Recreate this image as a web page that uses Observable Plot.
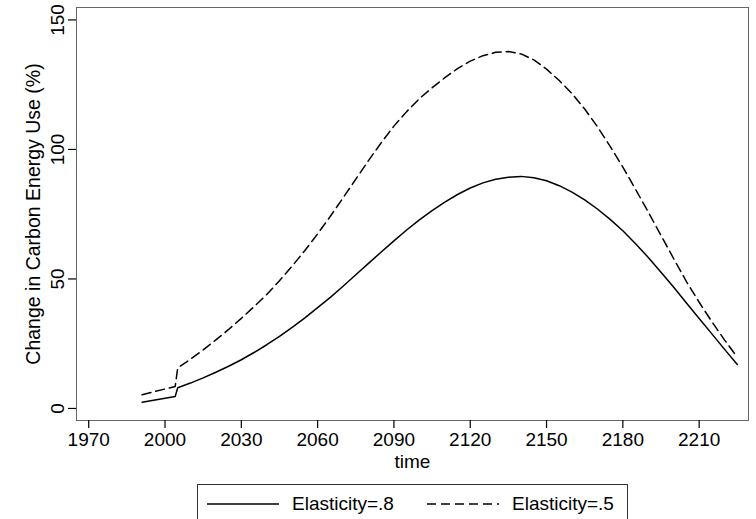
<!DOCTYPE html>
<html>
<head>
<meta charset="utf-8">
<script src="https://cdn.jsdelivr.net/npm/d3@7"></script>
<script src="https://cdn.jsdelivr.net/npm/@observablehq/plot@0.6"></script>
<style>
  html, body { margin: 0; padding: 0; background: #fff; overflow: hidden; }
  body { width: 756px; height: 519px; position: relative; font-family: "Liberation Sans", Arial, sans-serif; }
  #legend { position: absolute; left: 197px; top: 484px; width: 431px; height: 44px; border: 1px solid #333; box-sizing: border-box; }
  .item { position: absolute; top: 7px; height: 24px; display: flex; align-items: center; font-size: 19px; color: #000; }
  .item svg { margin-right: 13px; }
</style>
</head>
<body>
<div id="chart"></div>
<div id="legend"></div>
<script>
const years = [1991, 2004, 2005, 2010, 2015, 2020, 2025, 2030, 2035, 2040, 2045, 2050, 2055, 2060, 2065, 2070, 2075, 2080, 2085, 2090, 2095, 2100, 2105, 2110, 2115, 2120, 2125, 2130, 2135, 2140, 2145, 2150, 2155, 2160, 2165, 2170, 2175, 2180, 2185, 2190, 2195, 2200, 2205, 2210, 2215, 2220, 2225];
const elasticity08 = [2.4, 4.6, 8.0, 9.8, 11.8, 14.0, 16.3, 18.8, 21.6, 24.6, 27.8, 31.3, 35.0, 38.9, 42.9, 47.2, 51.6, 56.0, 60.4, 64.7, 68.9, 72.8, 76.4, 79.7, 82.6, 85.1, 87.1, 88.5, 89.3, 89.6, 89.1, 87.9, 86.0, 83.5, 80.5, 77.0, 73.0, 68.6, 63.6, 58.3, 52.6, 46.8, 40.7, 34.7, 28.8, 22.8, 17.0];
const elasticity05 = [5.3, 8.5, 15.7, 19.0, 22.6, 26.5, 30.5, 34.8, 39.3, 44.0, 49.3, 55.0, 61.0, 67.4, 74.2, 81.3, 88.5, 95.7, 102.6, 109.0, 114.6, 119.6, 123.8, 127.7, 131.2, 134.1, 136.2, 137.5, 137.8, 136.9, 134.6, 131.0, 126.6, 121.6, 115.6, 108.8, 101.2, 93.2, 84.6, 75.8, 66.8, 57.8, 49.0, 41.0, 33.5, 26.4, 19.8];
const seriesNames = ["Elasticity=.8", "Elasticity=.5"];
const xTicks = [1970, 2000, 2030, 2060, 2090, 2120, 2150, 2180, 2210];
const yTicks = [0, 50, 100, 150];
const xTitle = "time";
const yTitle = "Change in Carbon Energy Use (%)";

const s08 = years.map((t, i) => ({time: t, value: elasticity08[i]}));
const s05 = years.map((t, i) => ({time: t, value: elasticity05[i]}));

const font = "Liberation Sans, Arial, sans-serif";

const chart = Plot.plot({
  width: 756,
  height: 475,
  marginLeft: 76,
  marginRight: 8,
  marginTop: 7,
  marginBottom: 55,
  style: {fontFamily: font, fontSize: "19px", color: "#000", background: "#fff"},
  x: {domain: [1965.2, 2229.4]},
  y: {domain: [-4.65, 154.8]},
  marks: [
    Plot.frame({stroke: "#666", strokeWidth: 1}),
    Plot.axisX(xTicks, {tickSize: 8, tickPadding: 4, fontSize: 19, tickFormat: d => String(d), label: null, line: true, stroke: "#000", strokeWidth: 1.2}),
    Plot.axisY(yTicks, {tickSize: 8, tickPadding: 5, tickRotate: -90, fontSize: 19, tickFormat: d => String(d), label: null, line: true, stroke: "#000", strokeWidth: 1.2}),
    Plot.text([xTitle], {frameAnchor: "bottom", dy: 41, text: d => d, fontSize: 19, lineAnchor: "middle"}),
    Plot.text([yTitle], {frameAnchor: "left", dx: -43, rotate: -90, text: d => d, fontSize: 19.5, textAnchor: "middle", lineAnchor: "middle"}),
    Plot.line(s05, {x: "time", y: "value", stroke: "#000", strokeWidth: 1.5, strokeDasharray: "9,5"}),
    Plot.line(s08, {x: "time", y: "value", stroke: "#000", strokeWidth: 1.5})
  ]
});
document.getElementById("chart").appendChild(chart);

// Legend below the chart
const legend = document.getElementById("legend");
const items = [
  {name: seriesNames[0], dash: null, left: 9},
  {name: seriesNames[1], dash: "9,5", left: 229}
];
for (const it of items) {
  const div = document.createElement("div");
  div.className = "item";
  div.style.left = it.left + "px";
  const svg = d3.create("svg").attr("width", 72).attr("height", 10);
  svg.append("line").attr("x1", 0).attr("x2", 72).attr("y1", 5).attr("y2", 5)
    .attr("stroke", "#000").attr("stroke-width", 1.5)
    .attr("stroke-dasharray", it.dash);
  div.appendChild(svg.node());
  const span = document.createElement("span");
  span.textContent = it.name;
  div.appendChild(span);
  legend.appendChild(div);
}
</script>
</body>
</html>
